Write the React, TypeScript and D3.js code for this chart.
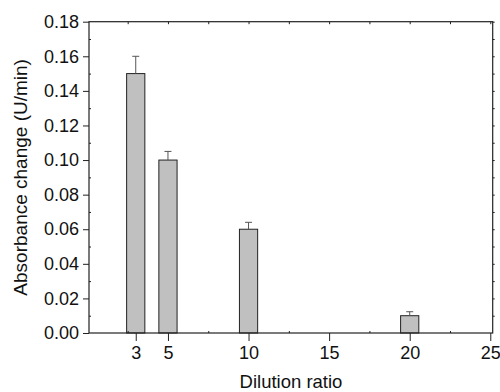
import React, {useEffect, useRef} from 'react';
import * as d3 from 'd3';

const dilutionRatios = [3, 5, 10, 20];
const absorbanceChange = [0.15, 0.10, 0.06, 0.01];
const errorValues = [0.01, 0.005, 0.004, 0.0023];
const xTickValues = [3, 5, 10, 15, 20, 25];
const xMinorTicks = [2.5, 7.5, 12.5, 17.5, 22.5];
const xTopTicks = [2.5, 5, 7.5, 10, 12.5, 15, 17.5, 20, 22.5, 25];
const yTickValues = [0, 0.02, 0.04, 0.06, 0.08, 0.10, 0.12, 0.14, 0.16, 0.18];
const yMinorTicks = [0.01, 0.03, 0.05, 0.07, 0.09, 0.11, 0.13, 0.15, 0.17];

const width = 500;
const height = 392;
const font = 'Liberation Sans, Arial, sans-serif';

const App = () => {
    const svgRef = useRef<SVGSVGElement>(null);

    useEffect(() => {
        const svg = d3.select(svgRef.current);
        svg.selectAll('*').remove();

        const left = 89, right = 492.7, top = 21.7, bottom = 333;

        const x = d3.scaleLinear().domain([0.1, 25.15]).range([left, right]);
        const y = d3.scaleLinear().domain([0, 0.18]).range([bottom, top]);

        const data = dilutionRatios.map((r, i) => ({r, v: absorbanceChange[i], e: errorValues[i]}));
        const barW = x(1.13) - x(0);

        // bars
        svg.append('g').selectAll('rect')
            .data(data)
            .enter()
            .append('rect')
            .attr('x', d => x(d.r) - barW / 2)
            .attr('y', d => y(d.v))
            .attr('width', barW)
            .attr('height', d => y(0) - y(d.v))
            .attr('fill', '#c0c0c0')
            .attr('stroke', '#222')
            .attr('stroke-width', 1);

        // error bars (upper only)
        const err = svg.append('g').attr('stroke', '#555').attr('stroke-width', 1);
        err.selectAll('line.stem')
            .data(data)
            .enter()
            .append('line')
            .attr('x1', d => x(d.r))
            .attr('x2', d => x(d.r))
            .attr('y1', d => y(d.v))
            .attr('y2', d => y(d.v + d.e));
        err.selectAll('line.cap')
            .data(data)
            .enter()
            .append('line')
            .attr('x1', d => x(d.r) - 3.5)
            .attr('x2', d => x(d.r) + 3.5)
            .attr('y1', d => y(d.v + d.e))
            .attr('y2', d => y(d.v + d.e));

        const styleAxis = (g: any) => {
            g.select('.domain').remove();
            g.selectAll('line').attr('stroke', '#222').attr('stroke-width', 1);
            g.selectAll('text').attr('font-family', font).attr('font-size', 18).attr('fill', '#111');
        };

        // bottom axis
        svg.append('g')
            .attr('transform', `translate(0,${bottom})`)
            .call(d3.axisBottom(x).tickValues(xTickValues).tickSize(8).tickPadding(5).tickFormat(d3.format('d')) as any)
            .call(styleAxis);
        svg.append('g')
            .attr('transform', `translate(0,${bottom})`)
            .call(d3.axisBottom(x).tickValues(xMinorTicks).tickSize(-2).tickFormat(() => '') as any)
            .call(styleAxis);

        // top axis
        svg.append('g')
            .attr('transform', `translate(0,${top})`)
            .call(d3.axisTop(x).tickValues(xTopTicks).tickSize(-2.5).tickFormat(() => '') as any)
            .call(styleAxis);

        // left axis
        svg.append('g')
            .attr('transform', `translate(${left},0)`)
            .call(d3.axisLeft(y).tickValues(yTickValues).tickSize(6).tickPadding(4).tickFormat(d3.format('.2f')) as any)
            .call(styleAxis);
        svg.append('g')
            .attr('transform', `translate(${left},0)`)
            .call(d3.axisLeft(y).tickValues(yMinorTicks).tickSize(-2).tickFormat(() => '') as any)
            .call(styleAxis);

        // right axis
        svg.append('g')
            .attr('transform', `translate(${right},0)`)
            .call(d3.axisRight(y).tickValues(yMinorTicks.concat(yTickValues.slice(1))).tickSize(2).tickFormat(() => '') as any)
            .call(styleAxis);

        // frame
        svg.append('rect')
            .attr('x', left)
            .attr('y', top)
            .attr('width', right - left)
            .attr('height', bottom - top)
            .attr('fill', 'none')
            .attr('stroke', '#222')
            .attr('stroke-width', 1.2);

        // axis titles
        svg.append('text')
            .attr('x', 291)
            .attr('y', 388)
            .attr('text-anchor', 'middle')
            .attr('font-family', font)
            .attr('font-size', 18.5)
            .attr('fill', '#111')
            .text('Dilution ratio');

        svg.append('text')
            .attr('transform', `translate(27,${(top + bottom) / 2}) rotate(-90)`)
            .attr('text-anchor', 'middle')
            .attr('font-family', font)
            .attr('font-size', 19)
            .attr('fill', '#111')
            .text('Absorbance change (U/min)');
    }, []);

    return (
        <div style={{position: 'absolute', left: 0, top: 0}}>
            <svg ref={svgRef} width={width} height={height} style={{display: 'block', background: '#fff'}}></svg>
        </div>
    );
};

export default App;
